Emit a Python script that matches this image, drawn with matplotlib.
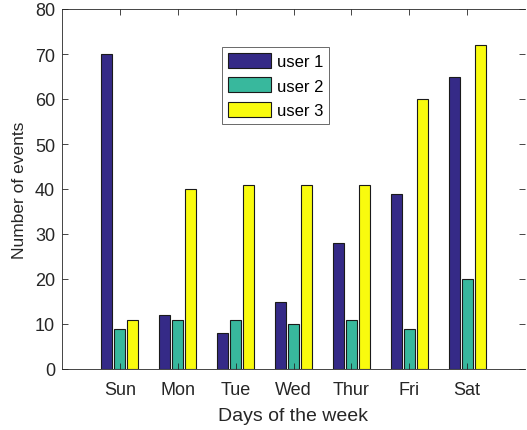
import numpy as np
import matplotlib.pyplot as plt

days = ['Sun', 'Mon', 'Tue', 'Wed', 'Thur', 'Fri', 'Sat']
user1 = [70, 12, 8, 15, 28, 39, 65]
user2 = [9, 11, 11, 10, 11, 9, 20]
user3 = [11, 40, 41, 41, 41, 60, 72]
labels = ['user 1', 'user 2', 'user 3']
colors = ['#352A87', '#38B89D', '#F9FB0E']

plt.rcParams['font.family'] = ['Liberation Sans', 'DejaVu Sans']

fig = plt.figure(figsize=(5.27, 4.31), dpi=100)
ax = fig.add_axes([62/527, 1 - 370/431, 463/527, 360/431])

x = np.arange(1, len(days) + 1)
w = 0.19
off = 0.225
for k, (vals, lab, c) in enumerate(zip([user1, user2, user3], labels, colors)):
    ax.bar(x + (k - 1) * off, vals, width=w, color=c, edgecolor='#1a1a1a',
           linewidth=0.8, label=lab)

ax.set_xlim(0, 8)
ax.set_ylim(0, 80)
ax.set_xticks(x)
ax.set_xticklabels(days)
ax.set_yticks(range(0, 81, 10))
ax.tick_params(direction='in', length=4, width=0.6, colors='#262626',
               labelsize=13, top=True, right=True)
ax.tick_params(axis='x', pad=9)
ax.tick_params(axis='y', pad=5)
for s in ['left', 'bottom', 'top']:
    ax.spines[s].set_color('#262626')
    ax.spines[s].set_linewidth(0.6)
ax.spines['right'].set_visible(False)

ax.set_xlabel('Days of the week', fontsize=14, color='#262626')
ax.set_ylabel('Number of events', fontsize=12.5, color='#262626')
ax.xaxis.set_label_coords(0.5, -0.105)
ax.yaxis.set_label_coords(-0.076, 0.5)

leg = ax.legend(loc='upper left', bbox_to_anchor=((222 - 62) / 463, (370 - 48) / 360),
                bbox_transform=ax.transAxes, fontsize=12, frameon=True, fancybox=False,
                edgecolor='#262626', handlelength=2.6, handleheight=1.0,
                handletextpad=0.35, labelspacing=0.5, borderpad=0.35, borderaxespad=0)
leg.get_frame().set_linewidth(0.6)

fig.savefig('out.png', dpi=100)
